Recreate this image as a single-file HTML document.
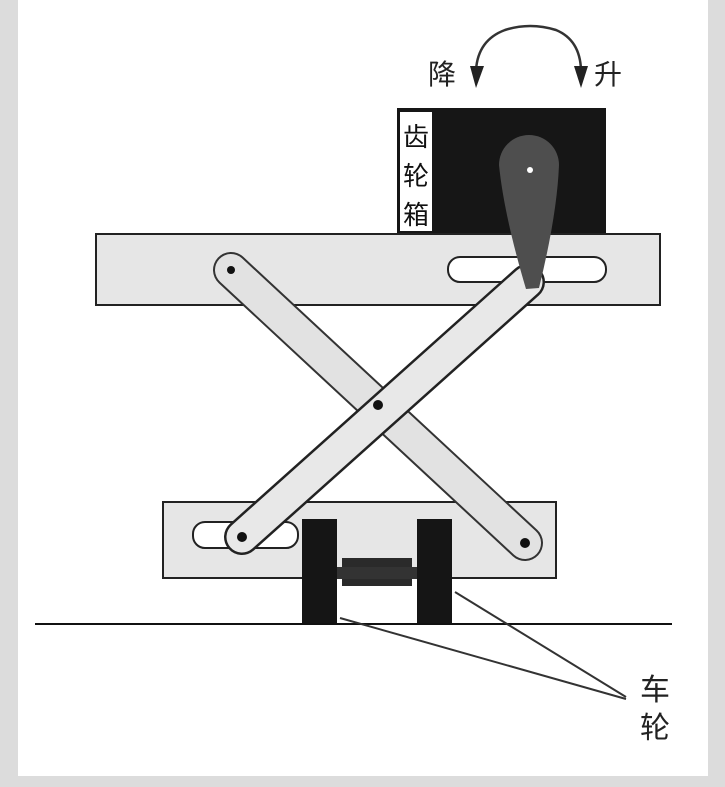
<!DOCTYPE html>
<html><head><meta charset="utf-8"><style>body{margin:0}svg{display:block}</style></head><body>
<svg width="725" height="787" viewBox="0 0 725 787" xmlns="http://www.w3.org/2000/svg" font-family="'Liberation Sans','Noto Sans CJK SC',sans-serif">
<rect width="725" height="787" fill="#dcdcdc"/>
<rect x="18" y="0" width="690" height="776" fill="#fff"/>
<path d="M476,70 Q478,40 505,30 Q530,22 556,30 Q580,40 581,70" fill="none" stroke="#333" stroke-width="2.5"/>
<path d="M470,66 L484,66 L476,88 z" fill="#222"/>
<path d="M574,66 L588,66 L581,88 z" fill="#222"/>
<text x="428" y="84" font-size="28" fill="#222">降</text>
<text x="594" y="84" font-size="28" fill="#222">升</text>
<rect x="397" y="108" width="209" height="128" fill="#161616"/>
<rect x="400" y="112" width="32" height="119" fill="#fff"/>
<text x="416" y="146" font-size="26" text-anchor="middle" fill="#111">齿</text>
<text x="416" y="185" font-size="26" text-anchor="middle" fill="#111">轮</text>
<text x="416" y="224" font-size="26" text-anchor="middle" fill="#111">箱</text>
<rect x="96" y="234" width="564" height="71" fill="#e6e6e6" stroke="#222" stroke-width="2"/>
<rect x="448" y="257" width="158" height="25" rx="12" fill="#fff" stroke="#222" stroke-width="2"/>
<rect x="163" y="502" width="393" height="76" fill="#e6e6e6" stroke="#222" stroke-width="2"/>
<rect x="193" y="522" width="105" height="26" rx="12" fill="#fff" stroke="#222" stroke-width="2"/>
<line x1="231" y1="270" x2="525" y2="543" stroke="#333" stroke-width="36" stroke-linecap="round"/>
<line x1="231" y1="270" x2="525" y2="543" stroke="#e2e2e2" stroke-width="32" stroke-linecap="round"/>
<circle cx="231" cy="270" r="4" fill="#111"/>
<circle cx="525" cy="543" r="5" fill="#111"/>
<line x1="242" y1="537" x2="527" y2="282" stroke="#222" stroke-width="36" stroke-linecap="round"/>
<line x1="242" y1="537" x2="527" y2="282" stroke="#e8e8e8" stroke-width="31" stroke-linecap="round"/>
<circle cx="242" cy="537" r="5" fill="#111"/>
<circle cx="378" cy="405" r="5" fill="#111"/>
<path d="M499,165 A30,30 0 0 1 559,165 Q557,215 539,288 L526,289 Q504,215 499,165 Z" fill="#4e4e4e"/>
<circle cx="530" cy="170" r="3" fill="#fff"/>
<rect x="302" y="519" width="35" height="105" fill="#151515"/>
<rect x="417" y="519" width="35" height="105" fill="#151515"/>
<rect x="342" y="558" width="70" height="28" fill="#2a2a2a"/>
<rect x="337" y="567" width="80" height="12" fill="#333"/>
<line x1="35" y1="624" x2="672" y2="624" stroke="#111" stroke-width="2"/>
<line x1="340" y1="618" x2="626" y2="699" stroke="#333" stroke-width="2"/>
<line x1="455" y1="592" x2="626" y2="697" stroke="#333" stroke-width="2"/>
<text x="640" y="700" font-size="30" fill="#222">车</text>
<text x="640" y="738" font-size="30" fill="#222">轮</text>
</svg>
</body></html>
